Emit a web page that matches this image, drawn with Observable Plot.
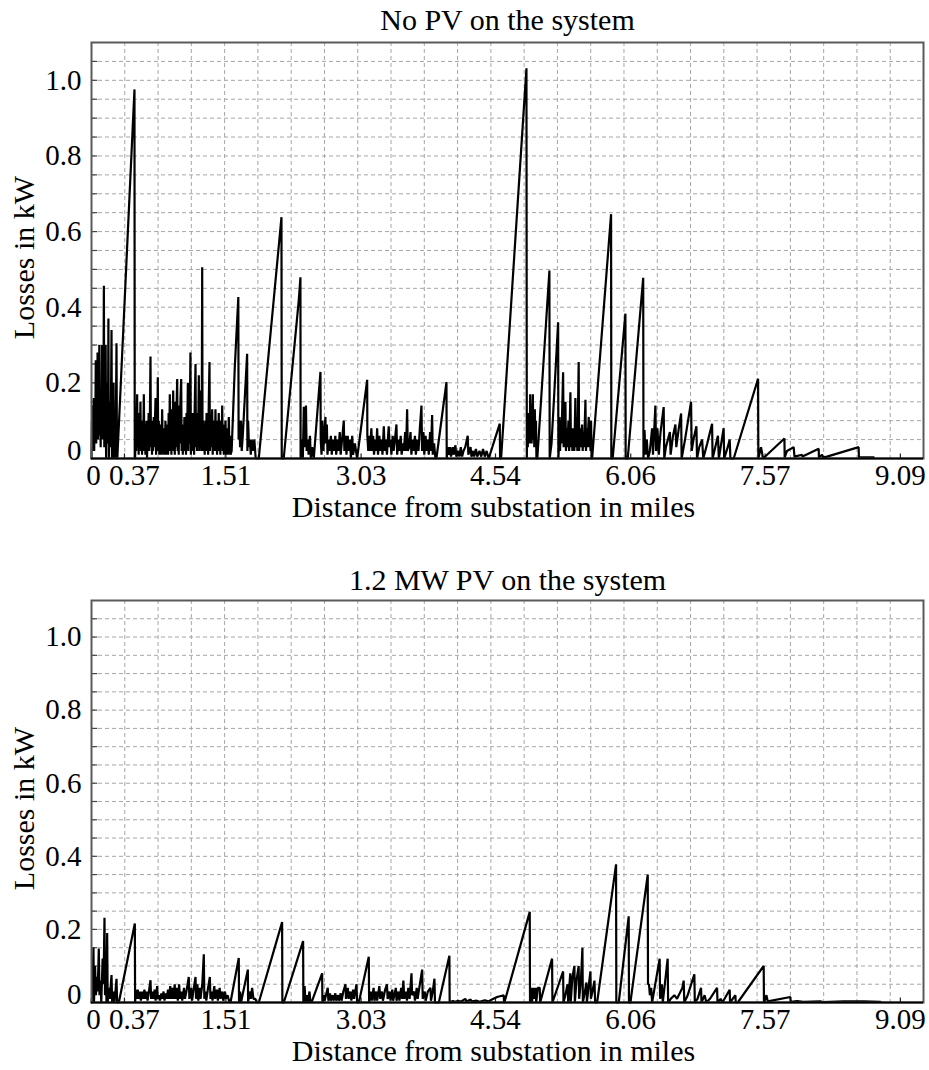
<!DOCTYPE html>
<html>
<head>
<meta charset="utf-8">
<script src="https://cdn.jsdelivr.net/npm/d3@7"></script>
<script src="https://cdn.jsdelivr.net/npm/@observablehq/plot@0.6"></script>
<style>
  html, body { margin: 0; padding: 0; background: #fff; }
  svg { display: block; }
</style>
</head>
<body>
<div id="chart"></div>
<script>
// ---- text ----
const titleTop = "No PV on the system";
const titleBottom = "1.2 MW PV on the system";
const xLabel = "Distance from substation in miles";
const yLabel = "Losses in kW";

// ---- axes (miles / kW) ----
const xDomain = [0, 9.35];
const yDomain = [0, 1.1];
const xTickMain = [1.51, 3.03, 4.54, 6.06, 7.57, 9.09];
const xTickZero = [0];
const xTickFirst = [0.37];
const yTickLabels = [0.2, 0.4, 0.6, 0.8, 1.0];
const yTickZero = [0];
const gridCountX = 25;   // vertical dashed grid divisions
const gridStepY = 0.05;  // horizontal dashed grid step (kW)

// ---- series: [distance in miles, losses in kW] ----
const noPV = [
[0,0],[0.005,0.1],[0.01,0.02],[0.015,0.14],[0.02,0.04],[0.025,0.16],[0.03,0.02],[0.036,0.12],[0.042,0.05],[0.048,0.26],[0.053,0.04],[0.058,0.18],[0.063,0.06],[0.068,0.28],[0.073,0.05],[0.078,0.2],[0.083,0.1],[0.088,0.30],[0.093,0.06],[0.098,0.17],[0.103,0.03],[0.108,0.15],[0.113,0.08],[0.118,0.30],[0.123,0.05],[0.128,0.2],[0.133,0.1],[0.139,0.457],[0.144,0.03],[0.149,0.16],[0.154,0.08],[0.159,0.3],[0.164,0.0],[0.17,0.2],[0.175,0.04],[0.18,0.15],[0.185,0.06],[0.19,0.37],[0.195,0.0],[0.2,0.12],[0.205,0.03],[0.21,0.15],[0.216,0.05],[0.225,0.34],[0.23,0.0],[0.236,0.1],[0.242,0.03],[0.248,0.2],[0.254,0.0],[0.26,0.1],[0.266,0.0],[0.272,0.04],[0.281,0.305],[0.286,0.0],[0.29,0.0],[0.483,0.976],[0.486,0.0],
[0.49,0.0],[0.496,0.08],[0.502,0.02],[0.508,0.1],[0.513,0.17],[0.518,0.03],[0.524,0.09],[0.53,0.01],[0.536,0.12],[0.543,0.04],[0.55,0.15],[0.556,0.02],[0.562,0.08],[0.568,0.01],[0.575,0.1],[0.582,0.04],[0.588,0.17],[0.594,0.02],[0.6,0.07],[0.606,0.01],[0.612,0.06],[0.618,0.1],[0.624,0.0],[0.63,0.09],[0.636,0.03],[0.642,0.12],[0.648,0.02],[0.655,0.08],[0.663,0.27],[0.668,0.03],[0.674,0.1],[0.68,0.01],[0.686,0.07],[0.692,0.02],[0.7,0.11],[0.706,0.03],[0.712,0.09],[0.72,0.16],[0.726,0.01],[0.732,0.08],[0.738,0.02],[0.745,0.215],[0.75,0.02],[0.756,0.1],[0.762,0.01],[0.768,0.07],[0.774,0.02],[0.78,0.09],[0.786,0.01],[0.794,0.13],[0.8,0.03],[0.806,0.08],[0.812,0.01],[0.818,0.07],[0.824,0.02],[0.831,0.1],[0.837,0.01],[0.843,0.06],[0.849,0.02],[0.855,0.09],[0.861,0.01],[0.867,0.12],[0.873,0.03],[0.88,0.17],[0.886,0.02],[0.892,0.1],[0.898,0.01],[0.904,0.13],[0.91,0.04],[0.918,0.18],[0.924,0.02],[0.93,0.1],[0.936,0.01],[0.942,0.15],[0.948,0.03],[0.955,0.12],[0.963,0.21],[0.968,0.02],[0.975,0.14],[0.98,0.01],[0.986,0.1],[0.992,0.04],[1.0,0.16],[1.008,0.21],[1.013,0.02],[1.02,0.09],[1.026,0.01],[1.032,0.08],[1.038,0.02],[1.044,0.11],[1.05,0.03],[1.056,0.1],[1.062,0.01],[1.068,0.12],[1.074,0.04],[1.083,0.2],[1.088,0.02],[1.094,0.1],[1.1,0.04],[1.106,0.15],[1.112,0.28],[1.117,0.01],[1.123,0.1],[1.129,0.02],[1.135,0.12],[1.141,0.03],[1.147,0.09],[1.153,0.01],[1.16,0.14],[1.169,0.25],[1.174,0.03],[1.18,0.1],[1.186,0.02],[1.192,0.12],[1.198,0.04],[1.206,0.22],[1.212,0.02],[1.218,0.1],[1.224,0.03],[1.232,0.18],[1.238,0.02],[1.244,0.506],[1.248,0.02],[1.254,0.1],[1.26,0.03],[1.266,0.08],[1.272,0.01],[1.281,0.1],[1.287,0.02],[1.293,0.12],[1.299,0.03],[1.305,0.09],[1.311,0.01],[1.318,0.15],[1.326,0.255],[1.331,0.02],[1.337,0.1],[1.343,0.03],[1.349,0.08],[1.356,0.13],[1.362,0.01],[1.368,0.09],[1.374,0.03],[1.38,0.1],[1.386,0.02],[1.393,0.13],[1.399,0.03],[1.405,0.08],[1.411,0.01],[1.418,0.1],[1.424,0.03],[1.43,0.12],[1.436,0.02],[1.442,0.09],[1.448,0.01],[1.455,0.1],[1.462,0.03],[1.469,0.14],[1.475,0.02],[1.481,0.08],[1.487,0.01],[1.493,0.09],[1.5,0.02],[1.506,0.1],[1.512,0.01],[1.518,0.07],[1.524,0.02],[1.53,0.08],[1.536,0.01],[1.543,0.11],[1.55,0.02],[1.556,0.06],[1.562,0.01],[1.575,0.02],[1.61,0.24],[1.65,0.427],[1.653,0.05],[1.662,0.1],[1.67,0.03],[1.68,0.1],[1.688,0.02],[1.7,0.06],[1.749,0.277],[1.752,0.02],[1.76,0.1],[1.77,0.03],[1.78,0.05],[1.79,0.01],[1.80,0.05],[1.815,0.02],[1.83,0.05],[1.845,0.0],[1.862,0.0],
[1.88,0.0],[2.135,0.638],[2.138,0.0],[2.16,0.0],[2.33,0.42],[2.348,0.479],[2.35,0.0],
[2.36,0.05],[2.375,0.0],[2.386,0.137],[2.392,0.03],[2.41,0.14],[2.418,0.02],[2.43,0.05],[2.44,0.01],[2.455,0.06],[2.465,0.0],[2.48,0.03],[2.498,0.0],[2.573,0.229],[2.576,0.05],[2.585,0.01],[2.595,0.1],[2.605,0.02],[2.629,0.11],[2.635,0.04],[2.645,0.09],[2.652,0.01],[2.665,0.05],[2.675,0.02],[2.69,0.06],[2.7,0.01],[2.715,0.05],[2.725,0.02],[2.74,0.06],[2.75,0.01],[2.765,0.05],[2.775,0.02],[2.79,0.07],[2.8,0.01],[2.82,0.06],[2.835,0.1],[2.842,0.02],[2.855,0.06],[2.865,0.01],[2.88,0.06],[2.89,0.02],[2.905,0.05],[2.915,0.0],[2.93,0.06],[2.94,0.01],[2.96,0.04],[2.985,0.0],[3.098,0.208],[3.1,0.06],[3.11,0.02],[3.12,0.06],[3.13,0.02],[3.145,0.08],
[3.155,0.02],[3.165,0.06],[3.175,0.01],[3.19,0.05],[3.2,0.02],[3.21,0.08],[3.22,0.01],[3.235,0.06],[3.245,0.02],[3.26,0.05],[3.27,0.01],[3.285,0.085],[3.295,0.02],[3.31,0.05],[3.32,0.01],[3.34,0.085],[3.35,0.03],[3.36,0.05],[3.37,0.01],[3.385,0.06],[3.395,0.02],[3.41,0.05],[3.427,0.09],[3.435,0.01],[3.45,0.05],[3.46,0.02],[3.475,0.06],[3.485,0.01],[3.5,0.04],[3.51,0.02],[3.525,0.07],[3.535,0.02],[3.547,0.13],[3.555,0.02],[3.57,0.03],[3.585,0.07],[3.595,0.01],[3.61,0.05],[3.62,0.02],[3.635,0.06],[3.645,0.01],[3.66,0.05],[3.675,0.02],[3.69,0.08],[3.708,0.14],[3.715,0.02],[3.73,0.07],[3.74,0.01],[3.755,0.06],[3.765,0.02],[3.78,0.05],[3.79,0.01],[3.805,0.07],[3.815,0.02],[3.828,0.115],[3.835,0.01],[3.85,0.04],[3.865,0.0],[3.876,0.0],[3.989,0.202],[3.992,0.0],
[4.005,0.03],[4.015,0.01],[4.03,0.03],[4.04,0.005],[4.06,0.03],[4.07,0.01],[4.09,0.035],[4.1,0.005],[4.12,0.02],[4.135,0.005],[4.15,0.03],[4.165,0.005],[4.18,0.02],[4.2,0.03],[4.228,0.06],[4.235,0.01],[4.26,0.03],[4.27,0.005],[4.29,0.02],[4.3,0.005],[4.32,0.025],[4.335,0.005],[4.36,0.02],[4.38,0.005],[4.4,0.025],[4.42,0.005],[4.44,0.02],[4.464,0.0],[4.588,0.092],[4.592,0.0],[4.603,0.0],[4.888,1.032],[4.892,0.0],
[4.898,0.1],[4.903,0.03],[4.908,0.12],[4.913,0.05],[4.918,0.1],[4.924,0.04],[4.93,0.17],[4.935,0.05],[4.94,0.12],[4.946,0.04],[4.952,0.1],[4.96,0.17],[4.965,0.05],[4.97,0.11],[4.976,0.03],[4.982,0.13],[4.988,0.05],[4.995,0.1],[5.0,0.0],[5.01,0.0],[5.146,0.497],[5.149,0.0],[5.17,0.04],[5.244,0.36],[5.247,0.0],
[5.252,0.03],[5.26,0.11],[5.266,0.02],[5.274,0.1],[5.28,0.04],[5.3,0.228],[5.306,0.03],[5.314,0.1],[5.326,0.15],[5.332,0.02],[5.34,0.08],[5.348,0.03],[5.36,0.1],[5.368,0.02],[5.382,0.175],[5.388,0.03],[5.396,0.08],[5.404,0.02],[5.42,0.08],[5.426,0.02],[5.438,0.16],[5.444,0.03],[5.452,0.1],[5.46,0.02],[5.475,0.255],[5.48,0.02],[5.488,0.08],[5.496,0.03],[5.513,0.09],[5.52,0.02],[5.528,0.07],[5.536,0.03],[5.551,0.155],[5.557,0.02],[5.565,0.08],[5.573,0.03],[5.588,0.11],[5.594,0.03],[5.602,0.07],[5.608,0.02],[5.614,0.1],[5.62,0.0],[5.626,0.0],[5.839,0.646],[5.842,0.0],[5.857,0.0],[6.0,0.383],[6.003,0.0],[6.026,0.0],[6.2,0.478],[6.203,0.0],
[6.215,0.075],[6.225,0.01],[6.24,0.05],[6.255,0.0],[6.275,0.02],[6.3,0.08],[6.31,0.01],[6.337,0.14],[6.345,0.02],[6.36,0.08],[6.375,0.01],[6.395,0.07],[6.43,0.136],[6.437,0.0],[6.455,0.03],[6.5,0.07],[6.508,0.01],[6.535,0.06],[6.562,0.09],[6.572,0.03],[6.6,0.08],[6.626,0.119],[6.632,0.0],[6.67,0.05],[6.738,0.15],[6.745,0.02],[6.765,0.05],[6.798,0.085],[6.805,0.0],[6.83,0.03],[6.862,0.05],[6.875,0.0],[6.92,0.04],[6.974,0.092],[6.98,0.0],[7.04,0.06],[7.05,0.0],[7.104,0.08],[7.11,0.0],[7.15,0.03],[7.172,0.05],[7.18,0.0],[7.217,0.0],[7.491,0.211],[7.494,0.0],[7.524,0.03],[7.547,0.0],[7.787,0.053],[7.79,0.003],[7.816,0.02],[7.891,0.03],[7.9,0.005],[7.985,0.01],[7.99,0.005],[8.172,0.026],[8.175,0.003],[8.21,0.01],[8.22,0.003],[8.266,0.005],[8.621,0.03],[8.624,0.003],[8.79,0.003]
];

const pv12 = [
[0,0],[0.01,0.02],[0.022,0.15],[0.028,0.0],[0.04,0.1],[0.05,0.02],[0.06,0.07],[0.07,0.03],[0.082,0.148],[0.09,0.02],[0.1,0.06],[0.11,0.0],[0.125,0.12],[0.135,0.05],[0.146,0.232],[0.152,0.02],[0.162,0.1],[0.168,0.0],[0.176,0.19],[0.182,0.0],[0.195,0.04],[0.205,0.01],[0.225,0.075],[0.232,0.0],[0.25,0.03],[0.258,0.0],[0.281,0.065],[0.288,0.0],[0.307,0.0],[0.487,0.216],[0.49,0.0],
[0.5,0.035],[0.51,0.01],[0.52,0.035],[0.53,0.01],[0.545,0.03],[0.555,0.005],[0.57,0.03],[0.58,0.01],[0.595,0.035],[0.605,0.01],[0.62,0.03],[0.63,0.005],[0.645,0.03],[0.663,0.061],[0.67,0.01],[0.685,0.03],[0.695,0.01],[0.71,0.035],[0.72,0.005],[0.738,0.045],[0.745,0.01],[0.76,0.02],[0.77,0.005],[0.785,0.025],[0.795,0.01],[0.81,0.03],[0.82,0.005],[0.835,0.025],[0.845,0.01],[0.86,0.035],[0.87,0.01],[0.885,0.045],[0.895,0.01],[0.91,0.04],[0.92,0.01],[0.935,0.05],[0.945,0.01],[0.96,0.04],[0.97,0.005],[0.985,0.05],[0.995,0.01],[1.01,0.03],[1.02,0.005],[1.04,0.04],[1.05,0.01],[1.07,0.035],[1.093,0.07],[1.1,0.01],[1.12,0.04],[1.13,0.005],[1.15,0.04],[1.169,0.07],[1.175,0.01],[1.19,0.05],[1.2,0.005],[1.215,0.04],[1.225,0.01],[1.245,0.05],[1.262,0.132],[1.268,0.01],[1.28,0.03],[1.29,0.005],[1.31,0.04],[1.33,0.07],[1.337,0.01],[1.35,0.03],[1.36,0.005],[1.38,0.045],[1.39,0.01],[1.41,0.035],[1.42,0.005],[1.44,0.04],[1.45,0.01],[1.47,0.03],[1.48,0.005],[1.5,0.03],[1.51,0.01],[1.53,0.02],[1.545,0.005],[1.562,0.0],[1.655,0.122],[1.658,0.0],[1.67,0.03],[1.68,0.0],[1.757,0.09],[1.76,0.0],[1.775,0.03],[1.79,0.01],[1.805,0.04],[1.82,0.01],[1.84,0.01],[1.86,0.0],[1.88,0.0],[2.142,0.22],[2.145,0.0],[2.161,0.0],[2.378,0.168],[2.381,0.0],
[2.395,0.045],[2.405,0.0],[2.42,0.02],[2.43,0.0],[2.45,0.03],[2.46,0.0],[2.48,0.005],[2.592,0.08],[2.595,0.0],[2.61,0.02],[2.62,0.005],[2.655,0.04],[2.662,0.005],[2.68,0.025],[2.69,0.005],[2.71,0.02],[2.72,0.005],[2.74,0.025],[2.75,0.005],[2.77,0.02],[2.78,0.005],[2.8,0.025],[2.81,0.005],[2.83,0.03],[2.854,0.05],[2.86,0.01],[2.88,0.04],[2.89,0.01],[2.91,0.03],[2.92,0.005],[2.94,0.035],[2.95,0.01],[2.978,0.05],[2.985,0.0],[3.004,0.0],[3.116,0.125],[3.12,0.0],
[3.14,0.03],[3.15,0.005],[3.17,0.04],[3.18,0.005],[3.2,0.03],[3.21,0.005],[3.235,0.045],[3.245,0.01],[3.265,0.03],[3.275,0.005],[3.3,0.035],[3.32,0.05],[3.328,0.01],[3.35,0.03],[3.36,0.005],[3.38,0.035],[3.39,0.005],[3.42,0.04],[3.428,0.005],[3.45,0.03],[3.46,0.005],[3.48,0.04],[3.49,0.01],[3.505,0.06],[3.515,0.01],[3.535,0.03],[3.545,0.005],[3.56,0.04],[3.575,0.01],[3.596,0.08],[3.603,0.02],[3.625,0.03],[3.635,0.005],[3.655,0.04],[3.665,0.01],[3.69,0.05],[3.716,0.09],[3.722,0.01],[3.745,0.03],[3.755,0.005],[3.78,0.03],[3.809,0.04],[3.815,0.005],[3.835,0.03],[3.854,0.065],[3.86,0.0],[3.903,0.0],[4.022,0.128],[4.025,0.0],
[4.06,0.004],[4.09,0.002],[4.12,0.005],[4.15,0.002],[4.2,0.01],[4.215,0.003],[4.26,0.008],[4.275,0.003],[4.33,0.005],[4.36,0.002],[4.42,0.006],[4.46,0.003],[4.5,0.008],[4.558,0.015],[4.633,0.02],[4.636,0.0],[4.64,0.0],[4.925,0.248],[4.928,0.0],
[4.94,0.04],[4.95,0.0],[4.965,0.04],[4.975,0.01],[4.99,0.04],[4.998,0.0],[5.015,0.04],[5.037,0.04],[5.042,0.0],[5.176,0.12],[5.18,0.0],[5.3,0.085],[5.304,0.0],[5.325,0.02],[5.35,0.05],[5.357,0.0],[5.38,0.08],[5.385,0.0],[5.405,0.07],[5.427,0.1],[5.432,0.0],[5.45,0.06],[5.475,0.1],[5.48,0.01],[5.5,0.06],[5.517,0.15],[5.522,0.0],[5.545,0.03],[5.562,0.055],[5.567,0.0],[5.59,0.05],[5.607,0.085],[5.612,0.01],[5.63,0.03],[5.652,0.06],[5.66,0.0],[5.682,0.0],[5.895,0.378],[5.898,0.0],[5.925,0.0],[6.037,0.236],[6.04,0.0],[6.056,0.0],[6.251,0.35],[6.254,0.05],
[6.265,0.05],[6.275,0.02],[6.29,0.04],[6.3,0.0],[6.385,0.12],[6.39,0.01],[6.41,0.05],[6.42,0.0],[6.475,0.12],[6.48,0.0],[6.51,0.01],[6.55,0.02],[6.58,0.01],[6.64,0.04],[6.655,0.06],[6.662,0.0],[6.7,0.02],[6.775,0.077],[6.78,0.0],[6.81,0.01],[6.85,0.04],[6.855,0.0],[6.89,0.02],[6.91,0.0],[6.95,0.01],[7.03,0.04],[7.035,0.0],[7.07,0.01],[7.09,0.0],[7.172,0.035],[7.176,0.0],[7.236,0.02],[7.24,0.0],[7.262,0.0],[7.554,0.1],[7.557,0.0],[7.585,0.02],[7.6,0.003],[7.854,0.015],[7.857,0.002],[7.93,0.004],[8.0,0.002],[8.19,0.003],[8.22,0.001],[8.45,0.003],[8.68,0.003],[8.865,0.002]
];

// ---- drawing ----
const FONT = '"Liberation Serif", "Times New Roman", serif';
const xGrid = d3.range(1, gridCountX).map(i => xDomain[0] + (xDomain[1] - xDomain[0]) * i / gridCountX);
const yGrid = d3.range(1, Math.round((yDomain[1] - yDomain[0]) / gridStepY)).map(i => +(i * gridStepY).toFixed(2));
const xTicksAll = [...xTickZero, ...xTickFirst, ...xTickMain];

function xAxis(ticks, dx) {
  return Plot.axisX(ticks, {anchor: "bottom", tickSize: 0, tickPadding: 6, fontSize: 29, fontFamily: FONT,
    fill: "black", dx, tickFormat: d => String(d), label: null});
}
function yAxis(ticks, dy, fmt) {
  return Plot.axisY(ticks, {anchor: "left", tickSize: 0, tickPadding: 10, fontSize: 29, fontFamily: FONT,
    fill: "black", dy, tickFormat: fmt, label: null});
}

function panel(data, title, {height, marginTop, marginBottom, titleDy}) {
  return Plot.plot({
    width: 929,
    height,
    marginLeft: 91,
    marginRight: 6,
    marginTop,
    marginBottom,
    style: {fontFamily: FONT, fontSize: "29px", color: "black", background: "white", overflow: "visible"},
    x: {domain: xDomain, axis: null},
    y: {domain: yDomain, axis: null},
    marks: [
      Plot.ruleX(xGrid, {stroke: "#a6a6a6", strokeWidth: 1, strokeDasharray: "4,3"}),
      Plot.ruleY(yGrid, {stroke: "#a6a6a6", strokeWidth: 1, strokeDasharray: "4,3"}),
      Plot.ruleY(yGrid, {x1: 0, x2: 0.07, stroke: "#444", strokeWidth: 1.2}),
      Plot.ruleX(xTicksAll, {y1: 0, y2: 0.012, stroke: "#222", strokeWidth: 1.2}),
      Plot.line(data, {x: d => d[0], y: d => d[1], stroke: "black", strokeWidth: 2.2, strokeLinejoin: "miter"}),
      Plot.frame({stroke: "#5a5a5a", strokeWidth: 2}),
      Plot.ruleY([0], {stroke: "black", strokeWidth: 2}),
      xAxis(xTickMain, 0),
      xAxis(xTickZero, 2),
      xAxis(xTickFirst, 10),
      yAxis(yTickLabels, 0, d => d.toFixed(1)),
      yAxis(yTickZero, -8, d => String(d)),
      Plot.text([title], {frameAnchor: "top", lineAnchor: "middle", textAnchor: "middle", dy: titleDy,
        text: d => d, fontSize: 30, fontFamily: FONT, fill: "black"}),
      Plot.text([xLabel], {frameAnchor: "bottom", lineAnchor: "middle", textAnchor: "middle", dy: 49, dx: -14,
        text: d => d, fontSize: 30, fontFamily: FONT, fill: "black"}),
      Plot.text([yLabel], {frameAnchor: "left", lineAnchor: "middle", textAnchor: "middle", dx: -67, dy: 7, rotate: -90,
        text: d => d, fontSize: 30, fontFamily: FONT, fill: "black"})
    ]
  });
}

const root = document.getElementById("chart");
root.append(panel(noPV, titleTop, {height: 530, marginTop: 42, marginBottom: 72, titleDy: -22}));
root.append(panel(pv12, titleBottom, {height: 540, marginTop: 70, marginBottom: 68, titleDy: -20}));
</script>
</body>
</html>
